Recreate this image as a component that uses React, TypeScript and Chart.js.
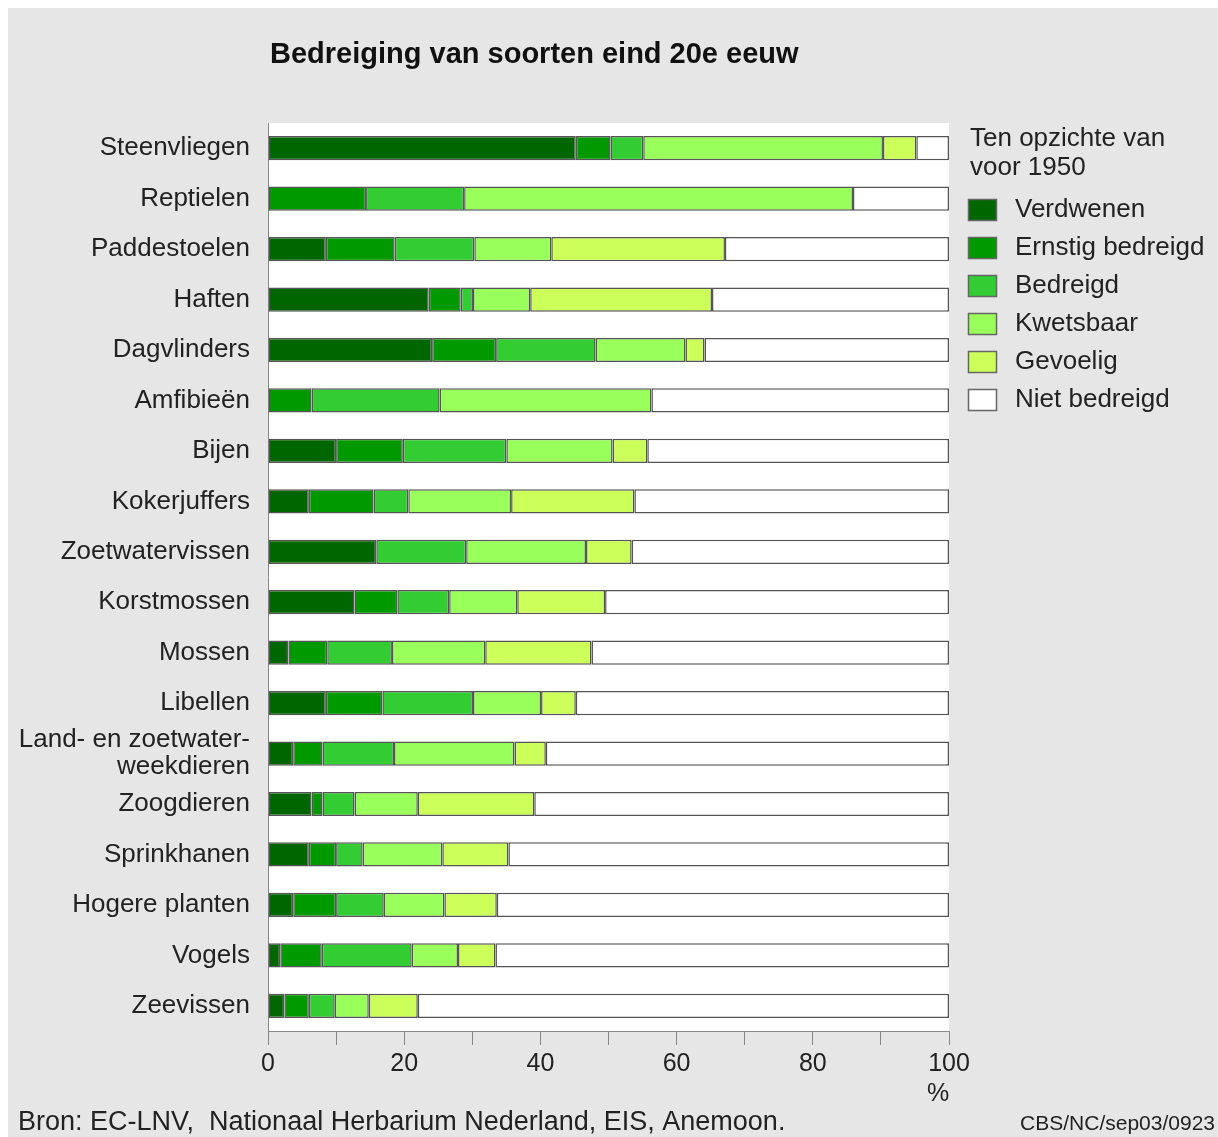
import React, { useEffect, useRef } from 'react';
import { Chart, registerables } from 'chart.js';

Chart.register(...registerables);

const categories: (string | string[])[] = [
  'Steenvliegen',
  'Reptielen',
  'Paddestoelen',
  'Haften',
  'Dagvlinders',
  'Amfibieën',
  'Bijen',
  'Kokerjuffers',
  'Zoetwatervissen',
  'Korstmossen',
  'Mossen',
  'Libellen',
  ['Land- en zoetwater-', 'weekdieren'],
  'Zoogdieren',
  'Sprinkhanen',
  'Hogere planten',
  'Vogels',
  'Zeevissen',
];

const seriesNames = ['Verdwenen', 'Ernstig bedreigd', 'Bedreigd', 'Kwetsbaar', 'Gevoelig', 'Niet bedreigd'];
const seriesColors = ['#006600', '#009900', '#33cc33', '#99ff5a', '#ccff5a', '#ffffff'];

const verdwenen = [45.2, 0, 8.5, 23.6, 24.1, 0, 10.0, 6.0, 15.9, 12.7, 3.0, 8.5, 3.7, 6.4, 6.0, 3.7, 1.8, 2.4];
const ernstigBedreigd = [5.1, 14.4, 10.1, 4.7, 9.4, 6.4, 9.8, 9.5, 0, 6.3, 5.7, 8.3, 4.3, 1.6, 4.0, 6.3, 6.1, 3.6];
const bedreigd = [4.8, 14.4, 11.7, 1.8, 14.6, 18.8, 15.2, 5.1, 13.2, 7.6, 9.5, 13.3, 10.5, 4.7, 3.9, 7.0, 13.2, 3.8];
const kwetsbaar = [35.2, 57.1, 11.3, 8.4, 13.2, 31.1, 15.6, 15.1, 17.6, 10.0, 13.7, 10.0, 17.7, 9.3, 11.7, 8.9, 6.8, 5.0];
const gevoelig = [4.9, 0, 25.5, 26.7, 2.8, 0, 5.1, 18.1, 6.7, 12.9, 15.6, 5.1, 4.6, 17.1, 9.7, 7.7, 5.5, 7.2];
const nietBedreigd = [4.8, 14.1, 32.9, 34.8, 35.9, 43.7, 44.3, 46.2, 46.6, 50.5, 52.5, 54.8, 59.2, 60.9, 64.7, 66.4, 66.6, 78.0];

const seriesValues = [verdwenen, ernstigBedreigd, bedreigd, kwetsbaar, gevoelig, nietBedreigd];

const xTickLabels = [0, 20, 40, 60, 80, 100];

const title = 'Bedreiging van soorten eind 20e eeuw';
const legendTitle = ['Ten opzichte van', 'voor 1950'];
const sourceText = 'Bron: EC-LNV,  Nationaal Herbarium Nederland, EIS, Anemoon.';
const codeText = 'CBS/NC/sep03/0923';
const unitText = '%';

const FONT = "'Liberation Sans', Arial, Helvetica, sans-serif";
const W = 1210;
const H = 1129;

export default function App() {
  const ref = useRef<HTMLCanvasElement>(null);

  useEffect(() => {
    const canvas = ref.current;
    if (!canvas) return;

    const deco = {
      id: 'deco',
      beforeDraw(chart: any) {
        const { ctx, chartArea: a } = chart;
        ctx.save();
        ctx.fillStyle = '#ffffff';
        ctx.fillRect(a.left, a.top, a.right - a.left, a.bottom - a.top);
        ctx.restore();
      },
      afterDraw(chart: any) {
        const { ctx, chartArea: a } = chart;
        ctx.save();
        // title
        ctx.fillStyle = '#111';
        ctx.font = `bold 29px ${FONT}`;
        ctx.textAlign = 'left';
        ctx.textBaseline = 'alphabetic';
        ctx.fillText(title, a.left + 2, 55);

        // legend
        ctx.font = `26px ${FONT}`;
        ctx.fillStyle = '#222';
        ctx.textBaseline = 'middle';
        legendTitle.forEach((t, i) => ctx.fillText(t, 962, 131 + i * 29));
        chart.data.datasets.forEach((ds: any, i: number) => {
          const cy = 202 + i * 38;
          ctx.fillStyle = ds.backgroundColor;
          ctx.fillRect(960, cy - 11, 29, 22);
          ctx.strokeStyle = '#666';
          ctx.lineWidth = 1.5;
          ctx.strokeRect(960.5, cy - 10.5, 28, 21);
          ctx.fillStyle = '#222';
          ctx.fillText(ds.label, 1007, cy);
        });

        // unit
        const xs = chart.scales.x;
        ctx.font = `25px ${FONT}`;
        ctx.textAlign = 'center';
        ctx.fillStyle = '#222';
        ctx.fillText(unitText, xs.getPixelForValue(100) - 11, 1086);

        // footer
        ctx.textBaseline = 'alphabetic';
        ctx.textAlign = 'left';
        ctx.font = `27px ${FONT}`;
        ctx.fillText(sourceText, 10, 1122);
        ctx.textAlign = 'right';
        ctx.font = `21px ${FONT}`;
        ctx.fillText(codeText, 1207, 1122);
        ctx.restore();
      },
    };

    const chart = new Chart(canvas, {
      type: 'bar',
      data: {
        labels: categories as any,
        datasets: seriesNames.map((name, i) => ({
          label: name,
          data: seriesValues[i],
          backgroundColor: seriesColors[i],
          borderColor: '#555555',
          borderWidth: 1.5,
          borderSkipped: false,
          barPercentage: 0.48,
          categoryPercentage: 1,
        })),
      },
      options: {
        indexAxis: 'y',
        responsive: false,
        animation: false,
        devicePixelRatio: 1,
        layout: { padding: { top: 115, right: 269, bottom: 46, left: 0 } },
        plugins: {
          legend: { display: false },
          tooltip: { enabled: false },
          title: { display: false },
        },
        scales: {
          x: {
            stacked: true,
            min: 0,
            max: 100,
            afterFit: (scale: any) => {
              scale.height = 60;
            },
            afterBuildTicks: (scale: any) => {
              const vals: number[] = [];
              for (let v = 0; v <= 100; v += 10) vals.push(v);
              scale.ticks = vals.map((v) => ({ value: v }));
            },
            ticks: {
              autoSkip: false,
              maxRotation: 0,
              padding: 4,
              color: '#222',
              font: { family: FONT, size: 25 },
              callback: (v: any) => (xTickLabels.includes(Number(v)) ? String(v) : ''),
            },
            grid: {
              display: true,
              drawOnChartArea: false,
              drawTicks: true,
              tickLength: 14,
              color: '#888',
            },
            border: { display: true, color: '#888', width: 1 },
          },
          y: {
            stacked: true,
            afterFit: (scale: any) => {
              scale.width = 260;
            },
            ticks: {
              autoSkip: false,
              padding: 18,
              color: '#222',
              font: { family: FONT, size: 26, lineHeight: 1.05 },
            },
            grid: { display: false, drawTicks: false },
            border: { display: true, color: '#888', width: 1 },
          },
        },
      },
      plugins: [deco],
    } as any);

    return () => chart.destroy();
  }, []);

  return (
    <div style={{ position: 'absolute', left: 8, top: 8, width: W, height: H, background: '#e6e6e6' }}>
      <canvas ref={ref} width={W} height={H} style={{ display: 'block', width: W, height: H }} />
    </div>
  );
}
